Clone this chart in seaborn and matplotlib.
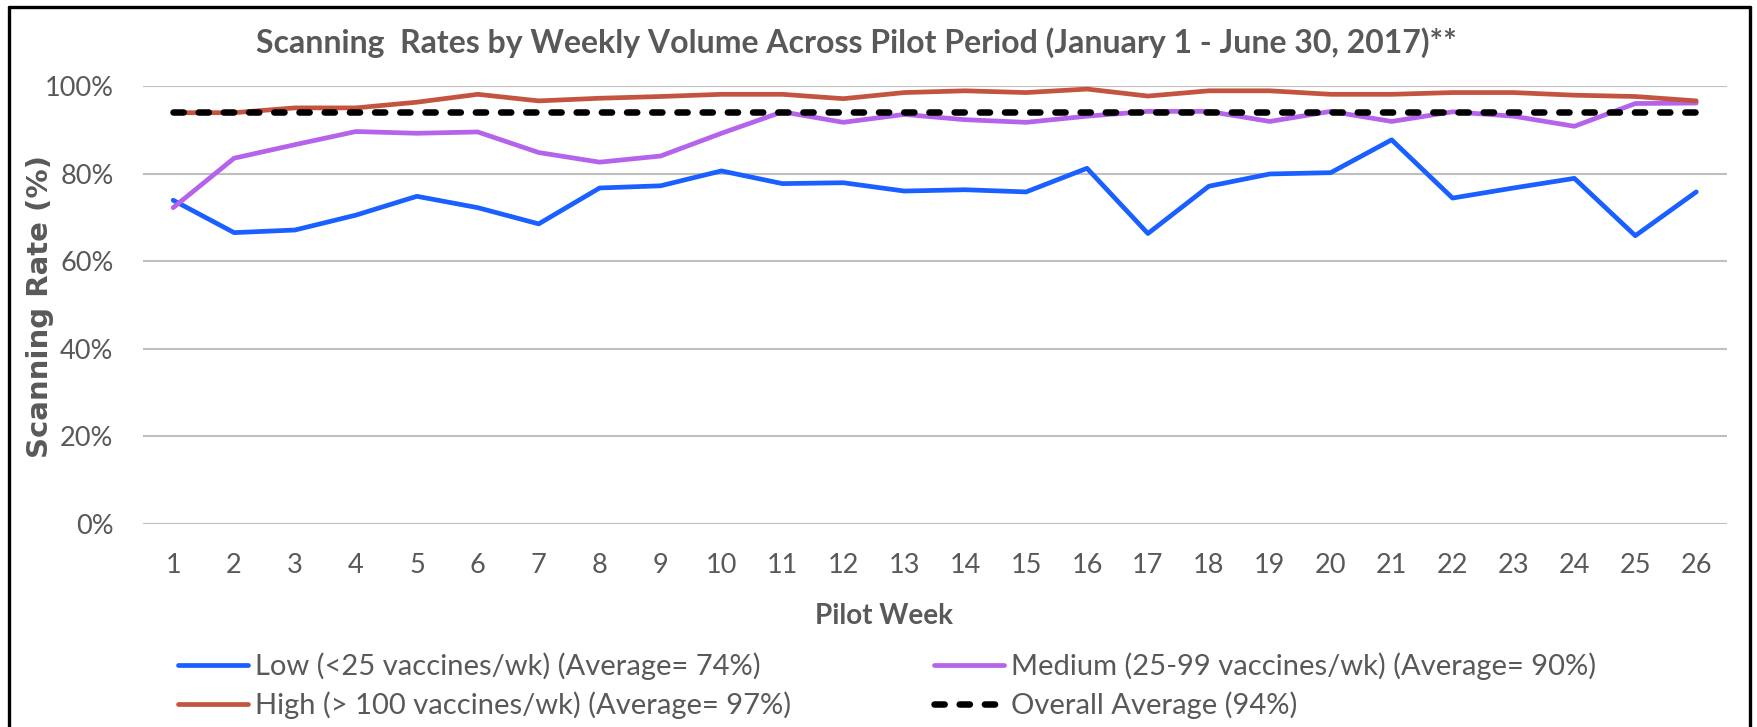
import numpy as np
import pandas as pd
import matplotlib
matplotlib.use("Agg")
import matplotlib.pyplot as plt
import seaborn as sns
from matplotlib.lines import Line2D

weeks = list(range(1, 27))
low = [73.9, 66.5, 67.1, 70.5, 74.8, 72.2, 68.5, 76.7, 77.2, 80.6, 77.7, 77.9, 76.0,
       76.3, 75.8, 81.2, 66.3, 77.1, 79.9, 80.2, 87.7, 74.4, 76.7, 78.9, 65.8, 75.8]
medium = [72.2, 83.5, 86.6, 89.6, 89.2, 89.5, 84.8, 82.6, 84.0, 89.2, 94.1, 91.7, 93.5,
          92.3, 91.7, 93.1, 94.2, 94.2, 91.9, 94.2, 91.9, 94.1, 93.1, 90.8, 96.0, 96.1]
high = [93.9, 93.9, 95.0, 95.0, 96.3, 98.1, 96.6, 97.2, 97.6, 98.1, 98.1, 97.1, 98.5,
        98.9, 98.5, 99.3, 97.7, 98.9, 98.9, 98.1, 98.1, 98.5, 98.5, 97.9, 97.6, 96.6]
overall = [94.1] * 26

labels = ["Low (<25 vaccines/wk) (Average= 74%)",
          "Medium (25-99 vaccines/wk) (Average= 90%)",
          "High (> 100 vaccines/wk) (Average= 97%)",
          "Overall Average (94%)"]
yticks = [0, 20, 40, 60, 80, 100]
ytick_labels = ["0%", "20%", "40%", "60%", "80%", "100%"]

title = "Scanning  Rates by Weekly Volume Across Pilot Period (January 1 - June 30, 2017)**"

sns.set_theme(style="white")
plt.rcParams['font.family'] = ['Lato', 'DejaVu Sans']

W, H = 1757, 727
fig = plt.figure(figsize=(W / 100, H / 100), dpi=100)
fig.patch.set_facecolor("white")

L, R, T, B = 142.7, 1726.7, 86.0, 523.7
ax = fig.add_axes([L / W, 1 - B / H, (R - L) / W, (B - T) / H])

grey = "#595959"
colors = ["#1A5FFF", "#B463EA", "#C35440"]
lw = 3.4

sns.lineplot(x=weeks, y=low, ax=ax, color=colors[0], lw=lw, label=labels[0], clip_on=False)
sns.lineplot(x=weeks, y=medium, ax=ax, color=colors[1], lw=lw, label=labels[1], clip_on=False)
sns.lineplot(x=weeks, y=high, ax=ax, color=colors[2], lw=lw, label=labels[2], clip_on=False)
sns.lineplot(x=weeks, y=overall, ax=ax, color="black", lw=4.7, label=labels[3], clip_on=False)
dl = ax.get_lines()[-1]
dl.set_dashes([1.56, 2.3])
dl.set_dash_capstyle("round")

ax.set_xlim(0.5, 26.5)
ax.set_ylim(0, 100)
ax.set_xticks(weeks)
ax.set_xticklabels([str(w) for w in weeks])
ax.set_yticks(yticks)
ax.set_yticklabels(ytick_labels)
ax.tick_params(axis="both", length=0, labelsize=19.5, labelcolor=grey)
ax.tick_params(axis="y", pad=21)
ax.tick_params(axis="x", pad=21)
ax.yaxis.grid(True, color="#BFBFBF", lw=1.5)
ax.set_axisbelow(True)
for s in ax.spines.values():
    s.set_visible(False)

ax.set_xlabel("Pilot Week", fontsize=20, fontweight="bold", color=grey)
ax.xaxis.label.set_va("center")
ax.xaxis.set_label_coords((884 - L) / (R - L), (B - 616) / (B - T))
ax.set_ylabel("")
fig.text(40 / W, 1 - 306 / H, "Scanning Rate (%)", rotation=90, ha="center", va="center",
         fontsize=21, fontweight="bold", color=grey, family=["DejaVu Sans"])
fig.text(856 / W, 1 - 42.6 / H, title, ha="center", va="center",
         fontsize=23, fontweight="bold", color=grey)

handles, hl = ax.get_legend_handles_labels()
if ax.legend_:
    ax.legend_.remove()
leg_kw = dict(frameon=False, fontsize=21, labelcolor=grey, handlelength=2.4,
              handletextpad=0.25, labelspacing=0.4, borderaxespad=0, borderpad=0)
fig.legend([handles[0], handles[2]], [hl[0], hl[2]], loc="center left",
           bbox_to_anchor=(178 / W, 1 - 686 / H), **leg_kw)
fig.legend([handles[1], handles[3]], [hl[1], hl[3]], loc="center left",
           bbox_to_anchor=(934 / W, 1 - 686 / H), **leg_kw)

bx0, bx1, by0 = 8.5 / W, 1749.5 / W, 1 - 7.0 / H
for xs, ys in [([bx0, bx0], [-0.1, by0]), ([bx0, bx1], [by0, by0]), ([bx1, bx1], [by0, -0.1])]:
    fig.add_artist(Line2D(xs, ys, transform=fig.transFigure, color="black", lw=2.4))

fig.savefig("out.png", dpi=100, facecolor="white")
